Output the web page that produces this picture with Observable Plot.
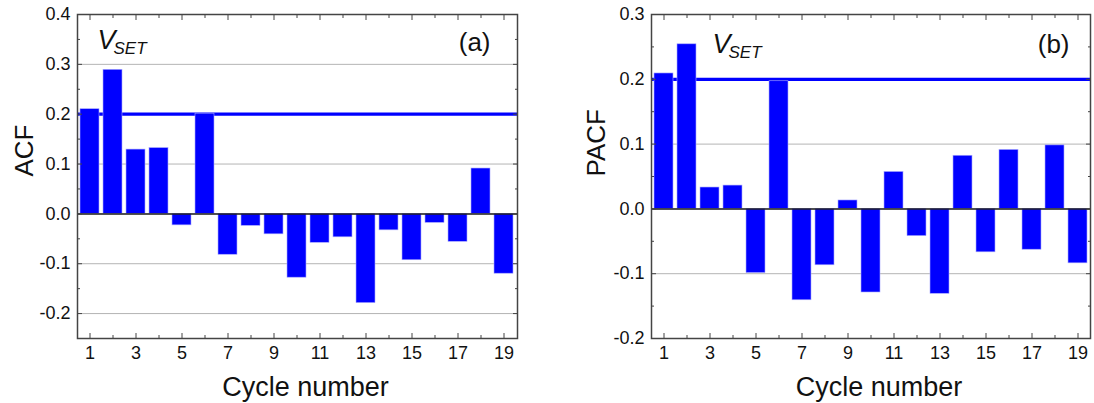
<!DOCTYPE html>
<html><head><meta charset="utf-8">
<script src="https://cdn.jsdelivr.net/npm/d3@7"></script>
<script src="https://cdn.jsdelivr.net/npm/@observablehq/plot@0.6"></script>
<style>
body{margin:0;background:#fff;}
#wrap{display:flex;width:1094px;height:403px;}
#wrap svg{display:block;flex:none;}
</style></head><body><div id="wrap"></div>
<script>
const cycles = [1,2,3,4,5,6,7,8,9,10,11,12,13,14,15,16,17,18,19];
const acfValues = [0.210, 0.289, 0.129, 0.132, -0.023, 0.201, -0.082, -0.024, -0.041, -0.128, -0.058, -0.047, -0.179, -0.033, -0.093, -0.018, -0.056, 0.091, -0.120];
const pacfValues = [0.209, 0.254, 0.033, 0.036, -0.099, 0.197, -0.141, -0.087, 0.013, -0.129, 0.057, -0.042, -0.131, 0.082, -0.067, 0.091, -0.063, 0.098, -0.084];
const threshold = 0.2;
const acfYTicks = [-0.2, -0.1, 0, 0.1, 0.2, 0.3, 0.4];
const acfYMinor = [-0.25, -0.15, -0.05, 0.05, 0.15, 0.25, 0.35];
const pacfYTicks = [-0.2, -0.1, 0, 0.1, 0.2, 0.3];
const pacfYMinor = [-0.15, -0.05, 0.05, 0.15, 0.25];
const xTickLabels = [1, 3, 5, 7, 9, 11, 13, 15, 17, 19];
const xMinorTicks = [2, 4, 6, 8, 10, 12, 14, 16, 18];

const FONT = "'Liberation Sans', Arial, sans-serif";
const AX = "#444";

function panel(o) {
  const data = cycles.map((c, i) => ({cycle: c, value: o.values[i]}));
  const blank = () => "";
  return Plot.plot({
    width: o.width, height: 403,
    marginLeft: o.marginLeft, marginRight: o.marginRight, marginTop: 14, marginBottom: 65,
    style: {fontFamily: FONT, fontSize: "18px", color: "#111", background: "white", overflow: "visible"},
    x: {type: "band", domain: cycles, paddingInner: 0.17, paddingOuter: 0.085, axis: null},
    y: {domain: o.yDomain, axis: null},
    marks: [
      Plot.ruleY(o.yTicks, {stroke: "#b4b4b4", strokeWidth: 1}),
      Plot.ruleY([threshold], {stroke: "#0000ff", strokeWidth: 3.2}),
      Plot.barY(data, {x: "cycle", y: "value", fill: "#0000ff", stroke: "#a8a8ff", strokeWidth: 0.6}),
      Plot.ruleY([0], {stroke: "#222", strokeWidth: 1.5}),
      Plot.frame({stroke: AX, strokeWidth: 1.5}),
      Plot.axisY({ticks: o.yTicks, tickSize: -5, tickPadding: 12, tickFormat: d => d.toFixed(1), stroke: AX, fontSize: 18, label: null}),
      Plot.axisY({ticks: o.yMinor, tickSize: -3, tickFormat: blank, stroke: AX, label: null}),
      Plot.axisY({anchor: "right", ticks: o.yTicks, tickSize: -5, tickFormat: blank, stroke: AX, label: null}),
      Plot.axisY({anchor: "right", ticks: o.yMinor, tickSize: -3, tickFormat: blank, stroke: AX, label: null}),
      Plot.axisX({ticks: xTickLabels, tickSize: -5, tickPadding: 13, stroke: AX, fontSize: 18, label: null}),
      Plot.axisX({ticks: xMinorTicks, tickSize: -3, tickFormat: blank, stroke: AX, label: null}),
      Plot.axisX({anchor: "top", ticks: xTickLabels, tickSize: -5, tickFormat: blank, stroke: AX, label: null}),
      Plot.axisX({anchor: "top", ticks: xMinorTicks, tickSize: -3, tickFormat: blank, stroke: AX, label: null}),
      Plot.text([o.yLabel], {frameAnchor: "left", dx: o.yLabelDx, dy: o.yLabelDy, rotate: -90, fontSize: 26, fill: "#111"}),
      Plot.text(["Cycle number"], {frameAnchor: "bottom", dx: 8, dy: 57, lineAnchor: "bottom", fontSize: 27, fill: "#111"}),
      Plot.text([o.tag], {frameAnchor: "top-right", textAnchor: "end", dx: o.tagDx, dy: o.tagDy, lineAnchor: "bottom", fontSize: 26, fill: "#111"}),
      Plot.text(["V"], {frameAnchor: "top-left", textAnchor: "start", dx: o.vDx, dy: o.vDy, lineAnchor: "bottom", fontSize: 27, fontStyle: "italic", fill: "#111"}),
      Plot.text(["SET"], {frameAnchor: "top-left", textAnchor: "start", dx: o.vDx + 16, dy: o.vDy + 5, lineAnchor: "bottom", fontSize: 17, fontStyle: "italic", fill: "#111"})
    ]
  });
}

const wrap = document.getElementById("wrap");
wrap.append(panel({
  values: acfValues, yDomain: [-0.25, 0.4], yTicks: acfYTicks, yMinor: acfYMinor,
  yLabel: "ACF", yLabelDx: -53, yLabelDy: 0, tag: "(a)", tagDx: -27, tagDy: 36,
  vDx: 20, vDy: 34, width: 547, marginLeft: 77, marginRight: 30
}));
wrap.append(panel({
  values: pacfValues, yDomain: [-0.2, 0.3], yTicks: pacfYTicks, yMinor: pacfYMinor,
  yLabel: "PACF", yLabelDx: -55, yLabelDy: 0, tag: "(b)", tagDx: -21, tagDy: 38,
  vDx: 61, vDy: 38, width: 547, marginLeft: 104, marginRight: 4
}));
</script></body></html>
